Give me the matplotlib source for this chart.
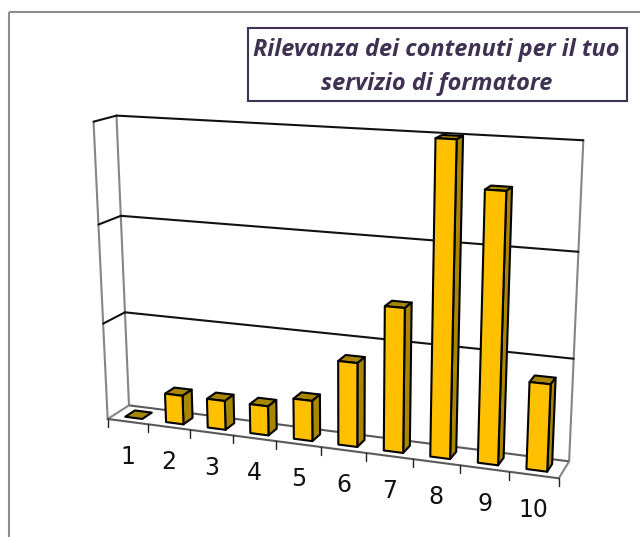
import numpy as np
import matplotlib
matplotlib.use('Agg')
import matplotlib.pyplot as plt
from matplotlib.patches import Polygon, Rectangle

categories = ['1', '2', '3', '4', '5', '6', '7', '8', '9', '10']
values = [0, 3, 3, 3, 4.1, 8.4, 14.2, 30, 25.7, 8.4]
grid_values = [10, 20, 30]
title = 'Rilevanza dei contenuti per il tuo\nservizio di formatore'

# camera of the fake 3D box: (category, depth, value) -> pixel, fitted on the frame corners
box_pts = [(0, 0, 0), (10, 0, 0), (0, 1, 0), (10, 1, 0), (0, 1, 10), (0, 1, 20), (0, 1, 30),
           (10, 1, 10), (10, 1, 20), (10, 1, 30), (0, 0, 10), (0, 0, 20), (0, 0, 30)]
pix_pts = [(107.3, 419), (559, 477.7), (129, 405), (569, 461.7), (125, 312.3), (120.7, 216), (116.7, 115.3),
           (574, 359), (578, 252), (583.3, 140), (103.3, 324), (98.7, 224.7), (93.3, 121.7)]

A = []
b = []
for (u, d, z), (px, py) in zip(box_pts, pix_pts):
    A.append([u, d, z, 1, 0, 0, 0, 0, -u*px, -d*px, -z*px])
    A.append([0, 0, 0, 0, u, d, z, 1, -u*py, -d*py, -z*py])
    b += [px, py]
P = np.append(np.linalg.lstsq(np.array(A, float), np.array(b, float), rcond=None)[0], 1).reshape(3, 4)

def proj(u, d, z):
    w = P @ np.array([u, d, z, 1.0])
    return w[0]/w[2], w[1]/w[2]

fig = plt.figure(figsize=(6.4, 5.37), dpi=100)
ax = fig.add_axes([0, 0, 1, 1])
ax.set_xlim(0, 640)
ax.set_ylim(537, 0)
ax.axis('off')

ax.add_patch(Rectangle((8.5, 12), 700, 600, fc='none', ec='#8c8c8c', lw=1.5))

def seg(p, q, color, lw=1.5, zorder=2):
    ax.plot([p[0], q[0]], [p[1], q[1]], color=color, lw=lw, zorder=zorder, solid_capstyle='round')

GRAY = '#858585'
zmax = grid_values[-1]
# walls and floor
seg(proj(0, 1, 0), proj(0, 1, zmax), GRAY)
seg(proj(0, 0, 0), proj(0, 0, zmax), GRAY)
seg(proj(10, 1, 0), proj(10, 1, zmax), GRAY)
seg(proj(0, 1, 0), proj(10, 1, 0), '#5a5a5a')
seg(proj(0, 0, 0), proj(0, 1, 0), GRAY)
seg(proj(10, 0, 0), proj(10, 1, 0), GRAY)
for g in grid_values:
    seg(proj(0, 1, g), proj(10, 1, g), '#111111')
    seg(proj(0, 0, g), proj(0, 1, g), '#111111')

# front edge, ticks and labels
seg(proj(0, 0, 0), proj(10, 0, 0), '#5a5a5a')
for i in range(len(categories) + 1):
    x, y = proj(i, 0, 0)
    seg((x, y), (x, y + 8), '#222222', lw=1.0)
for i, lab in enumerate(categories):
    x, y = proj(i + 0.5, 0, 0)
    ax.text(x, y + 35, lab, ha='center', va='center', fontsize=17, color='#111111', family='DejaVu Sans')

# bars
bw = 0.42
d0, d1 = 0.27, 0.73
for i, v in enumerate(values):
    u0 = i + 0.5 - bw/2
    u1 = i + 0.5 + bw/2
    kw = dict(ec='black', lw=1.5, joinstyle='round', zorder=3 + i*0.01)
    ax.add_patch(Polygon([proj(u0, d0, v), proj(u1, d0, v), proj(u1, d1, v), proj(u0, d1, v)], fc='#a88600', **kw))
    if v > 0:
        ax.add_patch(Polygon([proj(u1, d0, 0), proj(u1, d1, 0), proj(u1, d1, v), proj(u1, d0, v)], fc='#a88600', **kw))
        ax.add_patch(Polygon([proj(u0, d0, 0), proj(u1, d0, 0), proj(u1, d0, v), proj(u0, d0, v)], fc='#ffc000', **kw))

# title box
ax.add_patch(Rectangle((247.5, 28), 379, 72.5, fc='white', ec='#3f3151', lw=1.5, zorder=5))
ax.text(436.5, 67, title, ha='center', va='center', fontsize=16.9, color='#3f3151', family='Open Sans',
        style='italic', weight='bold', linespacing=1.5, zorder=6)

plt.savefig('out.png', dpi=100)
